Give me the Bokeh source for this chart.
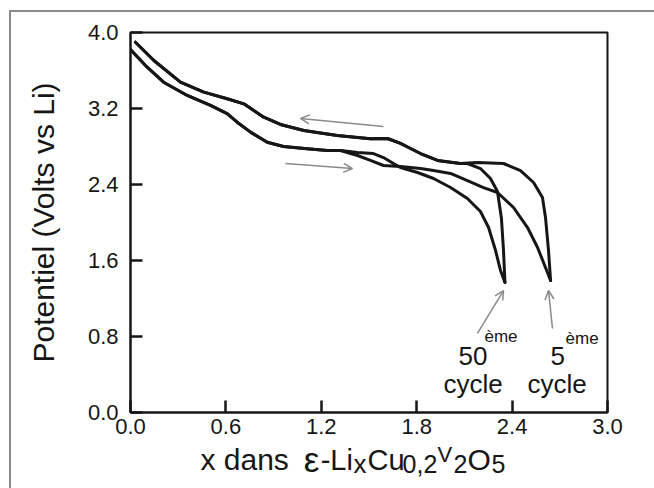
from bokeh.plotting import figure
from bokeh.layouts import column
from bokeh.models import (Range1d, FixedTicker, NumeralTickFormatter, Label,
                          Arrow, OpenHead, InlineStyleSheet)
from bokeh.embed import file_html
from bokeh.resources import INLINE

# Potential (V vs Li) against x in ε-LixCu0,2V2O5, 5th and 50th cycles.
# Discharge: lithium insertion, x increasing.
x_dech_5 = [0.0, 0.105, 0.208, 0.357, 0.503, 0.608, 0.671, 0.755, 0.860, 0.962,
            1.111, 1.237, 1.321, 1.428, 1.509, 1.591, 1.698, 1.824, 1.906, 2.013,
            2.119, 2.220, 2.308, 2.409, 2.497, 2.560, 2.610, 2.642]
v_dech_5 = [3.82, 3.635, 3.477, 3.337, 3.232, 3.147, 3.056, 2.951, 2.845, 2.800,
            2.776, 2.758, 2.758, 2.705, 2.653, 2.600, 2.589, 2.568, 2.547, 2.516,
            2.442, 2.368, 2.316, 2.158, 1.947, 1.737, 1.526, 1.389]

x_dech_50 = [0.0, 0.105, 0.208, 0.357, 0.503, 0.608, 0.671, 0.755, 0.860, 0.962,
             1.111, 1.237, 1.321, 1.428, 1.528, 1.591, 1.654, 1.698, 1.805, 1.906,
             2.013, 2.119, 2.201, 2.252, 2.296, 2.327, 2.355]
v_dech_50 = [3.82, 3.635, 3.477, 3.337, 3.232, 3.147, 3.056, 2.951, 2.845, 2.800,
             2.776, 2.758, 2.758, 2.737, 2.726, 2.684, 2.621, 2.579, 2.526, 2.463,
             2.368, 2.253, 2.116, 1.947, 1.705, 1.495, 1.370]

# Charge: lithium extraction, x decreasing.
x_ch_5 = [2.642, 2.629, 2.610, 2.591, 2.535, 2.453, 2.346, 2.182, 2.075, 1.931,
          1.824, 1.761, 1.698, 1.616, 1.509, 1.300, 1.090, 0.943, 0.838, 0.775,
          0.713, 0.608, 0.461, 0.314, 0.147, 0.031]
v_ch_5 = [1.389, 1.705, 2.053, 2.263, 2.421, 2.547, 2.621, 2.632, 2.621, 2.653,
          2.726, 2.779, 2.832, 2.884, 2.881, 2.916, 2.968, 3.032, 3.108, 3.179,
          3.249, 3.302, 3.372, 3.477, 3.705, 3.898]

x_ch_50 = [2.355, 2.346, 2.333, 2.308, 2.264, 2.201, 2.119, 2.075, 1.931,
           1.824, 1.761, 1.698, 1.616, 1.509, 1.300, 1.090, 0.943, 0.838, 0.775,
           0.713, 0.608, 0.461, 0.314, 0.147, 0.031]
v_ch_50 = [1.370, 1.705, 2.042, 2.326, 2.463, 2.568, 2.621, 2.621, 2.653,
           2.726, 2.779, 2.832, 2.884, 2.881, 2.916, 2.968, 3.032, 3.108, 3.179,
           3.249, 3.302, 3.372, 3.477, 3.705, 3.898]

x_ticks = [0.0, 0.6, 1.2, 1.8, 2.4, 3.0]
y_ticks = [0.0, 0.8, 1.6, 2.4, 3.2, 4.0]

FONT = "Liberation Sans"
INK = "#161616"
GREY = "#8a8a8a"

x_range = Range1d(0, 3)

p = figure(width=654, height=444, x_range=x_range, y_range=Range1d(0, 4),
           output_backend="svg", toolbar_location=None,
           min_border_left=130, min_border_right=47,
           min_border_top=32, min_border_bottom=32)
p.background_fill_color = "white"
p.border_fill_color = "white"
p.outline_line_color = INK
p.outline_line_width = 2
p.outline_line_alpha = 1
p.grid.visible = False

for ax, ticks in ((p.xaxis, x_ticks), (p.yaxis, y_ticks)):
    ax.ticker = FixedTicker(ticks=ticks)
    ax.formatter = NumeralTickFormatter(format="0.0")
    ax.minor_tick_line_color = None
    ax.major_tick_in = 12
    ax.major_tick_out = 0
    ax.major_tick_line_width = 2.5
    ax.major_tick_line_color = INK
    ax.axis_line_width = 2
    ax.axis_line_color = INK
    ax.major_label_text_font = FONT
    ax.major_label_text_font_size = "22px"
    ax.major_label_text_color = INK

p.xaxis.major_label_standoff = 6
p.yaxis.major_label_standoff = 12
p.yaxis.axis_label = "Potentiel (Volts vs Li)"
p.yaxis.axis_label_text_font = FONT
p.yaxis.axis_label_text_font_size = "30px"
p.yaxis.axis_label_text_font_style = "normal"
p.yaxis.axis_label_text_color = INK
p.yaxis.axis_label_standoff = 25

# the four curves
for xs, vs in ((x_dech_5, v_dech_5), (x_dech_50, v_dech_50),
               (x_ch_5, v_ch_5), (x_ch_50, v_ch_50)):
    p.line(xs, vs, line_color=INK, line_width=3,
           line_join="round", line_cap="round")

# direction arrows (charge to the left, discharge to the right) and cycle pointers
def arrow(x0, y0, x1, y1):
    p.add_layout(Arrow(x_start=x0, y_start=y0, x_end=x1, y_end=y1,
                       line_color=GREY, line_width=1.5,
                       end=OpenHead(size=9, line_color=GREY, line_width=1.5)))

arrow(1.591, 3.011, 1.069, 3.095)
arrow(0.975, 2.621, 1.396, 2.568)
arrow(2.182, 0.832, 2.346, 1.284)
arrow(2.654, 0.884, 2.629, 1.284)

def text(fig, x, y, s, size):
    fig.add_layout(Label(x=x, y=y, text=s, text_font=FONT,
                         text_font_size=size, text_color=INK,
                         text_align="left", text_baseline="alphabetic"))

# cycle labels
text(p, 2.063, 0.590, "50", "26px")
text(p, 2.226, 0.800, "ème", "17px")
text(p, 1.969, 0.295, "cycle", "26px")
text(p, 2.642, 0.590, "5", "26px")
text(p, 2.736, 0.775, "ème", "17px")
text(p, 2.497, 0.295, "cycle", "26px")

# x axis title strip (needs subscripts, so it is set piece by piece);
# it slides up under the tick labels and is transparent
t = figure(width=654, height=56, x_range=x_range, y_range=Range1d(0, 56),
           output_backend="svg", toolbar_location=None,
           min_border_left=130, min_border_right=47,
           min_border_top=0, min_border_bottom=0)
t.axis.visible = False
t.grid.visible = False
t.outline_line_color = None
t.background_fill_color = None
t.border_fill_color = None
t.styles = {"margin-top": "-12px"}

base, sub, hi = 29, 25, 34
text(t, 0.440, base, "x dans", "30px")
text(t, 1.090, base, "ε", "35px")
text(t, 1.196, base, "-Li", "29px")
text(t, 1.403, sub, "x", "26px")
text(t, 1.491, base, "Cu", "29px")
text(t, 1.711, sub, "0,2", "25px")
text(t, 1.931, hi, "V", "22px")
text(t, 2.031, sub, "2", "25px")
text(t, 2.119, base, "O", "30px")
text(t, 2.270, sub, "5", "25px")

page = column(p, t, spacing=0)

# thin grey page rule along the top and left edges
page.stylesheets = [InlineStyleSheet(css="""
:host { position: relative; }
:host::after {
  content: ''; position: absolute; left: 9px; top: 10px; right: -4px; bottom: -4px;
  border-left: 2px solid #8a8a8a; border-top: 2px solid #8a8a8a;
  pointer-events: none; z-index: 10;
}
""")]

open("out.html", "w").write(file_html(page, INLINE))
